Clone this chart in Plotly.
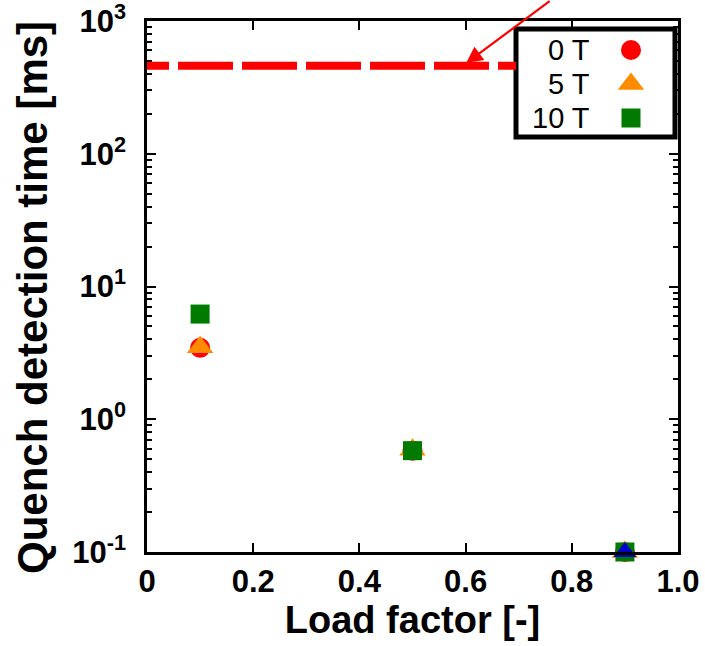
import math
import plotly.graph_objects as go

# ---- data ----
load_factor = [0.1, 0.5, 0.9]
t_0T = [3.45, 0.58, 0.1]
t_5T = [3.48, 0.59, 0.1]
t_10T = [6.2, 0.58, 0.1]
t_extra = [None, None, 0.1]  # blue triangle at 0.9 (not in legend)
threshold_ms = 460

series_names = ["0 T", "5 T", "10 T"]
series_colors = ["#ff0000", "#ff8c00", "#007a00"]
series_symbols = ["circle", "triangle-up", "square"]
series_sizes = [20, 23, 19]
series_values = [t_0T, t_5T, t_10T]

x_ticks = [0, 0.2, 0.4, 0.6, 0.8, 1.0]
x_ticktext = ["0", "0.2", "0.4", "0.6", "0.8", "1.0"]
y_ticks = [0.1, 1, 10, 100, 1000]
y_ticktext = ["10<sup>-1</sup>", "10<sup>0</sup>", "10<sup>1</sup>", "10<sup>2</sup>", "10<sup>3</sup>"]

W, H = 705, 646
L, R, T, B = 147, 678, 21, 552
FONT = "Liberation Sans, Arial, sans-serif"

def px(xp):
    return (xp - L) / (R - L)

def py(yp):
    return (B - yp) / (B - T)

fig = go.Figure()

# custom legend box (white, below traces)
fig.add_shape(type="rect", xref="paper", yref="paper",
              x0=px(516), x1=px(675), y0=py(137), y1=py(29),
              line=dict(color="black", width=5), fillcolor="white", layer="below")

for name, vals, col, sym, sz in zip(series_names, series_values, series_colors, series_symbols, series_sizes):
    fig.add_trace(go.Scatter(x=load_factor, y=vals, mode="markers", name=name,
                             marker=dict(color=col, symbol=sym, size=sz, opacity=1, line=dict(width=0)),
                             showlegend=False, cliponaxis=False))
fig.add_trace(go.Scatter(x=load_factor, y=t_extra, mode="markers", name="extra",
                         marker=dict(color="#0000cc", symbol="triangle-up", size=20, opacity=1,
                                     line=dict(width=0)),
                         showlegend=False, cliponaxis=False))

# threshold dashed line, ending at the legend box (drawn right-to-left)
dash_pattern = "18px,9px" + ",55px,9px" * 6
fig.add_shape(type="line", xref="x", yref="y", x0=px(516), x1=0.0, y0=threshold_ms, y1=threshold_ms,
              line=dict(color="#ff0000", width=8, dash=dash_pattern), layer="above")

legend_rows = [50, 84, 118]
for name, yrow in zip(series_names, legend_rows):
    fig.add_annotation(xref="paper", yref="paper", x=px(591), y=py(yrow), text=name,
                       showarrow=False, xanchor="right", yanchor="middle", borderpad=0,
                       font=dict(family=FONT, size=29, color="black"))

for col, sym, sz, yrow in zip(series_colors, series_symbols, series_sizes, legend_rows):
    fig.add_trace(go.Scatter(x=[px(631)], y=[py(yrow)], mode="markers",
                             xaxis="x2", yaxis="y2", showlegend=False, hoverinfo="skip",
                             marker=dict(color=col, symbol=sym, size=sz, opacity=1, line=dict(width=0))))

# arrow pointing to the threshold line
fig.add_annotation(xref="x", yref="y", x=0.601, y=math.log10(threshold_ms) + 0.02, text="",
                   showarrow=True, arrowhead=2, arrowsize=1.5, arrowwidth=2.2, arrowcolor="#ff0000",
                   ax=85, ay=-80, axref="pixel", ayref="pixel")

# y-axis title as rotated annotation
fig.add_annotation(xref="paper", yref="paper", x=px(32), y=py(298), textangle=-90,
                   text="<b>Quench detection time [ms]</b>", showarrow=False,
                   xanchor="center", yanchor="middle",
                   font=dict(family=FONT, size=42, color="black"))

axis_common = dict(showline=True, linecolor="black", linewidth=2.5, mirror="ticks",
                   ticks="inside", tickcolor="black", tickwidth=2, showgrid=False, zeroline=False,
                   ticklabeloverflow="allow", automargin=False)

fig.update_layout(
    width=W, height=H,
    margin=dict(l=L, r=W - R, t=T, b=H - B, pad=0, autoexpand=False),
    plot_bgcolor="white", paper_bgcolor="white",
    showlegend=False,
    xaxis=dict(range=[0, 1], tickvals=x_ticks, ticktext=x_ticktext, ticklen=9,
               tickfont=dict(family=FONT, size=31, color="black", weight="bold"),
               title=dict(text="<b>Load factor [-]</b>", font=dict(family=FONT, size=38, color="black"),
                          standoff=8),
               **axis_common),
    yaxis=dict(type="log", range=[-1, 3], tickvals=y_ticks, ticktext=y_ticktext, ticklen=9,
               minor=dict(ticks="inside", ticklen=5, tickcolor="black", tickwidth=1.5,
                          tickvals=[v * m for v in [0.1, 1, 10, 100] for m in range(2, 10)]),
               tickfont=dict(family=FONT, size=31, color="black", weight="bold"),
               ticklabelstandoff=12,
               **axis_common),
    xaxis2=dict(range=[0, 1], overlaying="x", visible=False, fixedrange=True),
    yaxis2=dict(range=[0, 1], overlaying="y", visible=False, fixedrange=True),
)

fig.write_html("out.html")
